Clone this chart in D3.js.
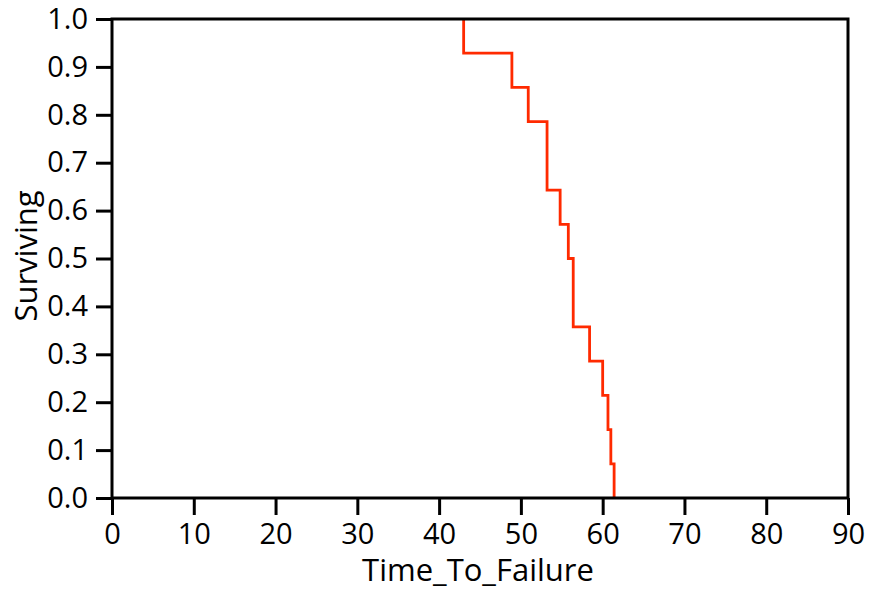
<!DOCTYPE html>
<meta charset="utf-8">
<script src="https://d3js.org/d3.v7.min.js"></script>
<style>
	body{
		margin:0;
		background:#fff;
		font-family:'Open Sans', sans-serif;
	}
	.axis text{
		font-size:29px;
		fill:#000;
		font-family:'Open Sans', sans-serif;
	}
	.axis line{
		stroke:#000;
		stroke-width:3px;
	}
	.axis path{
		display:none;
	}
</style>
<div id="chart"></div>
<script>

	// failure times (sorted) and the survival value after each failure
	var failureTimes = [43.0, 48.9, 50.9, 53.2, 53.2, 54.8, 55.8, 56.4, 56.4, 58.4, 60.0, 60.65, 61.0, 61.4]
	var survival = [0.9286, 0.8571, 0.7857, 0.7143, 0.6429, 0.5714, 0.5, 0.4286, 0.3571, 0.2857, 0.2143, 0.1429, 0.0714, 0]
	var xTicks = [0, 10, 20, 30, 40, 50, 60, 70, 80, 90]
	var yTicks = [0, 0.1, 0.2, 0.3, 0.4, 0.5, 0.6, 0.7, 0.8, 0.9, 1.0]

	var w = 870
	var h = 590
	var plotL = 112, plotR = 848, plotT = 19, plotB = 498

	var svg = d3.select("#chart").append("svg")
		.attr("width", w)
		.attr("height", h)

	var x = d3.scaleLinear().domain([0, 90]).range([plotL, plotR])
	var y = d3.scaleLinear().domain([0, 1]).range([plotB, plotT])

	// step points, the part at 1.0 sits under the frame so start at first failure
	var pts = []
	var prev = 1
	for (var i = 0; i < failureTimes.length; i++) {
		pts.push([failureTimes[i], prev])
		pts.push([failureTimes[i], survival[i]])
		prev = survival[i]
	}

	var line = d3.line()
		.x(function(d){ return x(d[0]) })
		.y(function(d){ return y(d[1]) })

	svg.append("path")
		.datum(pts)
		.attr("d", line)
		.attr("fill", "none")
		.attr("stroke", "#ff2a00")
		.attr("stroke-width", 2.8)

	// frame
	svg.append("rect")
		.attr("x", plotL)
		.attr("y", plotT)
		.attr("width", plotR - plotL)
		.attr("height", plotB - plotT)
		.attr("fill", "none")
		.attr("stroke", "#000")
		.attr("stroke-width", 3)

	svg.append("g")
		.attr("class", "axis")
		.attr("transform", "translate(0," + plotB + ")")
		.call(d3.axisBottom(x).tickValues(xTicks).tickSize(17).tickPadding(8).tickFormat(d3.format("d")))

	svg.append("g")
		.attr("class", "axis")
		.attr("transform", "translate(" + plotL + ",0)")
		.call(d3.axisLeft(y).tickValues(yTicks).tickSize(16).tickPadding(8).tickFormat(d3.format(".1f")))

	svg.append("text")
		.text("Time_To_Failure")
		.attr("x", 478)
		.attr("y", 581)
		.attr("text-anchor", "middle")
		.style("font-size", "31px")

	svg.append("text")
		.text("Surviving")
		.attr("transform", "translate(37,256) rotate(-90)")
		.attr("text-anchor", "middle")
		.style("font-size", "31px")

</script>
